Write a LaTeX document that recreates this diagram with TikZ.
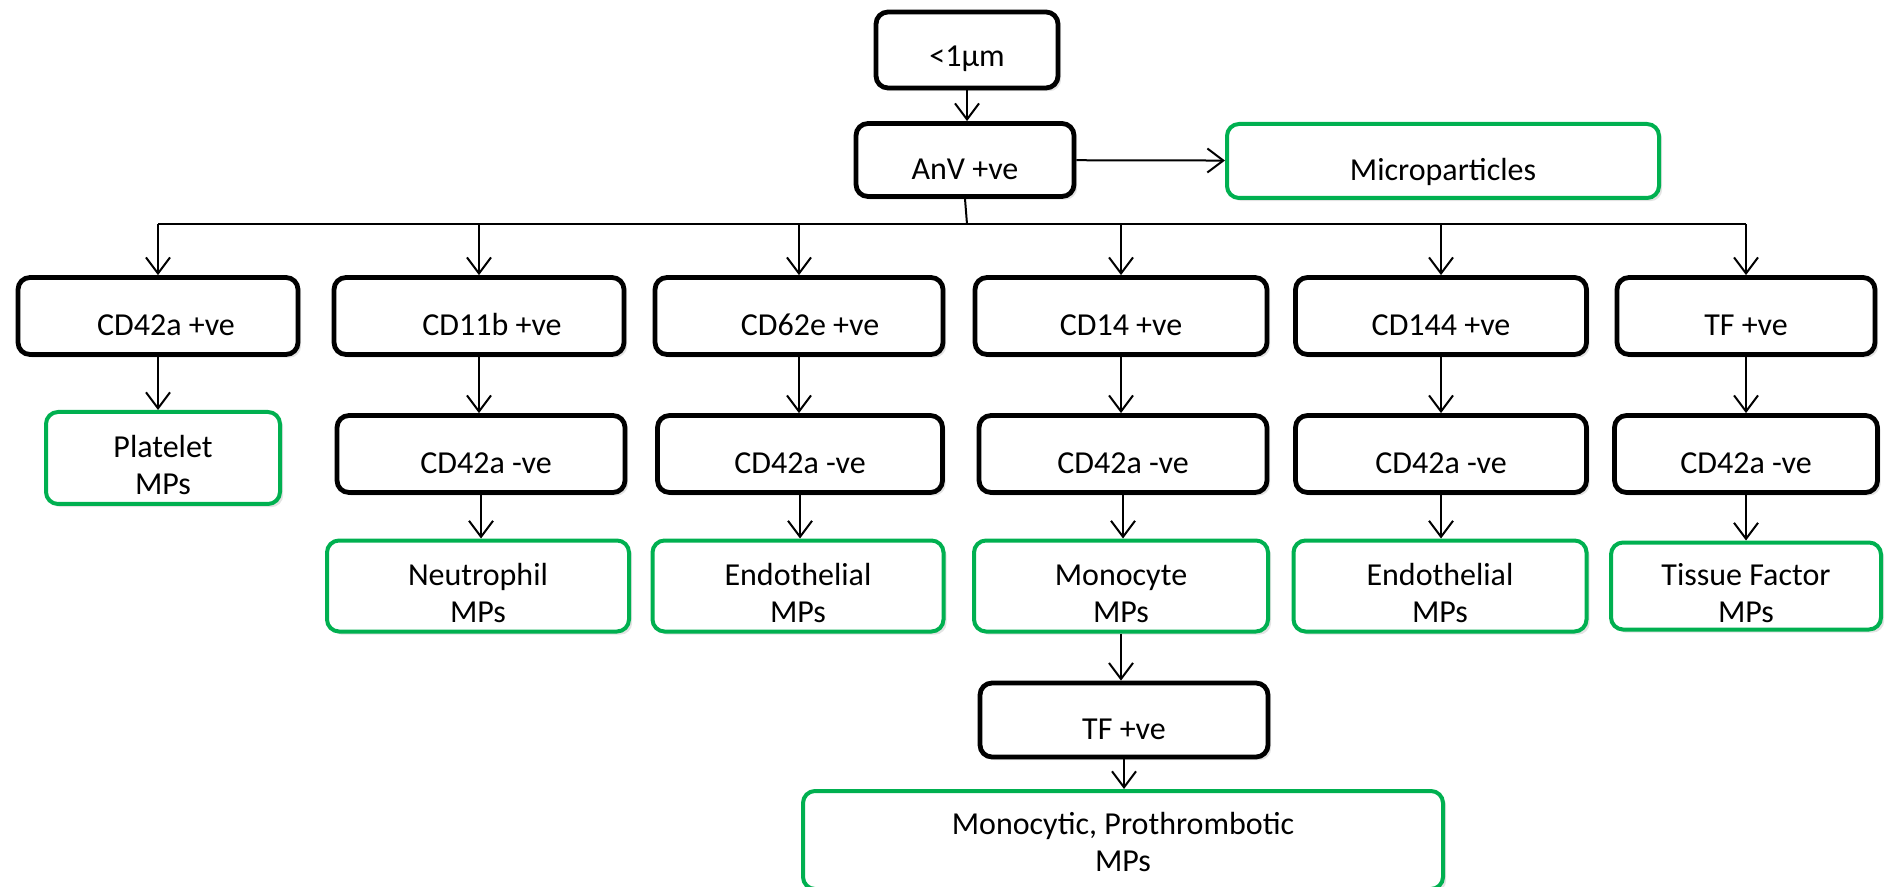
\documentclass[tikz,border=0pt]{standalone}
\usepackage{fontspec}
\setmainfont{Carlito}
\usetikzlibrary{arrows.meta,shadows}
\definecolor{mpgreen}{HTML}{00B050}
\newcommand\twol[2]{\begin{tabular}{@{}c@{}}#1\\#2\end{tabular}}

\begin{document}
\begin{tikzpicture}[x=0.5pt,y=-0.5pt,
every node/.style={font=\fontsize{16}{18.5}\selectfont,
text height=19.5pt,text depth=0pt,
rounded corners=6pt,fill=white,inner sep=0pt,
drop shadow={opacity=0.22,shadow xshift=1.6pt,shadow yshift=-1.6pt}},
posbox/.style={draw=black,line width=2.4pt,minimum height=38.5pt},
mpbox/.style={draw=mpgreen,line width=2pt,minimum height=45.5pt},
link/.style={draw,line width=1pt,->},
>={Straight Barb[length=8pt,width=12pt]}]

\useasboundingbox (0,0) rectangle (1885,887);

% top of the tree
\node[posbox,minimum width=91pt,minimum height=38pt,text height=17pt] (lt) at (967,50) {<1µm\hspace{12pt}};
\node[posbox,minimum width=109pt,minimum height=36.5pt] (anv) at (965,160) {AnV +ve};
\node[mpbox,minimum width=216pt,minimum height=37pt] (micro) at (1443,161) {Microparticles};

% first marker row
\node[posbox,minimum width=140pt] (cdxa) at (158,316) {\hspace{8pt}CD42a +ve};
\node[posbox,minimum width=145pt] (cdxib) at (479,316) {\hspace{13pt}CD11b +ve};
\node[posbox,minimum width=144pt] (cdsxe) at (799,316) {\hspace{11pt}CD62e +ve};
\node[posbox,minimum width=146pt] (cdxiv) at (1121,316) {CD14 +ve\hspace{6pt}};
\node[posbox,minimum width=145.5pt] (cdcxliv) at (1441,316) {CD144 +ve\hspace{6pt}};
\node[posbox,minimum width=129pt] (tf) at (1746,316) {TF +ve};

% second row
\node[mpbox,minimum width=117pt,minimum height=46pt] (plt) at (163,458) {\twol{Platelet}{MPs}};
\node[posbox,minimum width=144pt] (negb) at (481,454) {\hspace{5pt}CD42a -ve};
\node[posbox,minimum width=142.5pt] (negc) at (800,454) {CD42a -ve};
\node[posbox,minimum width=144pt] (negd) at (1123,454) {CD42a -ve};
\node[posbox,minimum width=145.5pt] (nege) at (1441,454) {CD42a -ve};
\node[posbox,minimum width=131.5pt] (negf) at (1746,454) {CD42a -ve};

% MP types
\node[mpbox,minimum width=151pt] (neu) at (478,586) {\twol{Neutrophil}{MPs}};
\node[mpbox,minimum width=145.5pt] (endoa) at (798,586) {\twol{Endothelial}{MPs}};
\node[mpbox,minimum width=147pt] (mono) at (1121,586) {\twol{Monocyte}{MPs}};
\node[mpbox,minimum width=146.5pt] (endob) at (1440,586) {\twol{Endothelial}{MPs}};
\node[mpbox,minimum width=135pt,minimum height=43.5pt] (tissue) at (1746,586) {\twol{Tissue Factor}{MPs}};

% monocyte branch
\node[posbox,minimum width=144pt,minimum height=37pt] (tfm) at (1124,720) {TF +ve};
\node[mpbox,minimum width=320pt,minimum height=49pt,text height=14pt] (prot) at (1123,840) {\twol{Monocytic, Prothrombotic}{MPs}};

\coordinate (bus) at (967,224);

\draw[link] (lt.south) -- (lt.south |- anv.north);
\draw[link] (anv) -- (micro);
\draw[line width=1pt] (anv.south) -- (bus);
\draw[line width=1pt] (cdxa.north |- bus) -- (tf.north |- bus);
\foreach \n in {cdxa,cdxib,cdsxe,cdxiv,cdcxliv,tf}
  \draw[link] (\n.north |- bus) -- (\n.north);
\foreach \a/\b in {cdxa/plt,cdxib/negb,cdsxe/negc,cdxiv/negd,cdcxliv/nege,tf/negf,
  negb/neu,negc/endoa,negd/mono,nege/endob,negf/tissue,mono/tfm,tfm/prot}
  \draw[link] (\a.south) -- (\a.south |- \b.north);

\end{tikzpicture}
\end{document}
